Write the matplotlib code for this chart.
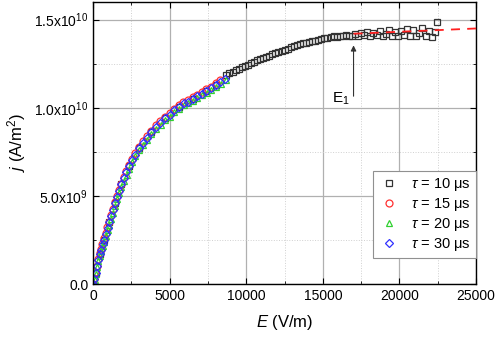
import matplotlib
matplotlib.use("Agg")
import matplotlib.pyplot as plt
from matplotlib.ticker import MultipleLocator, FuncFormatter

plt.rcParams['font.family'] = ['Liberation Sans', 'DejaVu Sans']
plt.rcParams['mathtext.fontset'] = 'custom'
plt.rcParams['mathtext.rm'] = 'Liberation Sans'
plt.rcParams['mathtext.it'] = 'Liberation Sans:italic'

# tau = 10 us (black squares), j in 1e9 A/m^2
E10 = [0, 160, 430, 720, 1050, 1420, 1840, 2350, 2990, 3800, 4700, 5600, 6500, 7400, 8000,
       8700, 8900, 9100, 9300, 9500, 9700, 9900, 10100, 10300, 10500, 10700, 10900, 11100,
       11300, 11500, 11700, 11900, 12100, 12300, 12500, 12700, 12900, 13100, 13300, 13500,
       13700, 13900, 14100, 14300, 14500, 14700, 14900, 15100, 15300, 15500, 15700, 15900,
       16100, 16300, 16500, 16700, 16900, 17100, 17300, 17500, 17700, 17900, 18100, 18300,
       18500, 18700, 18900, 19100, 19300, 19500, 19700, 19900, 20100, 20300, 20500, 20700,
       20900, 21100, 21300, 21500, 21700, 21900, 22100, 22300, 22450]
j10 = [0, 0.65, 1.7, 2.5, 3.5, 4.6, 5.65, 6.7, 7.7, 8.6, 9.4, 10.05, 10.5, 10.95, 11.3,
       11.85, 11.95, 12.05, 12.15, 12.2, 12.3, 12.35, 12.45, 12.55, 12.6, 12.7, 12.75, 12.85,
       12.9, 12.95, 13.05, 13.1, 13.15, 13.25, 13.3, 13.35, 13.45, 13.5, 13.55, 13.6,
       13.65, 13.7, 13.75, 13.8, 13.8, 13.85, 13.9, 13.95, 13.95, 14.0, 14.05, 14.0,
       14.1, 14.05, 14.15, 14.1, 14.05, 14.2, 14.1, 14.25, 14.15, 14.3, 14.05, 14.25,
       14.15, 14.35, 14.1, 14.2, 14.4, 14.1, 14.3, 14.05, 14.35, 14.15, 14.45, 14.1,
       14.4, 14.05, 14.25, 14.5, 14.1, 14.35, 14.0, 14.3, 14.85]

# tau = 15 us (red circles)
E15 = [0, 70, 150, 240, 330, 420, 510, 610, 710, 820, 930, 1040, 1160, 1280, 1410, 1540,
       1680, 1830, 1990, 2160, 2340, 2530, 2730, 2980, 3240, 3510, 3790, 4080, 4380, 4690,
       4990, 5290, 5590, 5890, 6190, 6490, 6790, 7090, 7390, 7690, 7990, 8300]
j15 = [0, 0.3, 0.7, 1.05, 1.4, 1.75, 2.0, 2.3, 2.6, 2.9, 3.25, 3.55, 3.9, 4.25, 4.65, 5.0,
       5.35, 5.7, 6.05, 6.4, 6.75, 7.1, 7.45, 7.8, 8.1, 8.4, 8.7, 9.0, 9.25, 9.5,
       9.7, 9.95, 10.15, 10.35, 10.45, 10.6, 10.75, 10.9, 11.05, 11.2, 11.4, 11.55]

# tau = 20 us (green triangles)
E20 = [0, 90, 170, 260, 350, 440, 530, 630, 730, 840, 950, 1060, 1180, 1300, 1430, 1560,
       1700, 1850, 2010, 2180, 2360, 2550, 2750, 3000, 3260, 3530, 3810, 4100, 4400, 4710,
       5010, 5310, 5610, 5910, 6210, 6510, 6810, 7110, 7410, 7710, 8010, 8320, 8650]
j20 = [0, 0.25, 0.6, 0.95, 1.3, 1.6, 1.85, 2.15, 2.4, 2.7, 3.05, 3.35, 3.7, 4.05, 4.45, 4.8,
       5.15, 5.5, 5.85, 6.2, 6.55, 6.9, 7.25, 7.6, 7.9, 8.2, 8.5, 8.8, 9.05, 9.3,
       9.5, 9.75, 9.95, 10.15, 10.25, 10.4, 10.55, 10.7, 10.85, 11.0, 11.2, 11.35, 11.55]

# tau = 30 us (blue diamonds)
E30 = [0, 80, 160, 250, 340, 430, 520, 620, 720, 830, 940, 1050, 1170, 1290, 1420, 1550,
       1690, 1840, 2000, 2170, 2350, 2540, 2740, 2990, 3250, 3520, 3800, 4090, 4390, 4700,
       5000, 5300, 5600, 5900, 6200, 6500, 6800, 7100, 7400, 7700, 8000, 8300, 8600]
j30 = [0, 0.3, 0.65, 1.0, 1.35, 1.7, 1.95, 2.25, 2.5, 2.85, 3.2, 3.5, 3.85, 4.2, 4.6, 4.95,
       5.3, 5.65, 6.0, 6.35, 6.7, 7.05, 7.35, 7.7, 8.0, 8.3, 8.6, 8.9, 9.15, 9.4,
       9.6, 9.85, 10.05, 10.25, 10.35, 10.5, 10.65, 10.8, 10.95, 11.1, 11.3, 11.45, 11.62]

# saturation fit (dashed line) and E1 marker
E_sat = [17000, 25000]
j_sat = [14.2, 14.5]
E1 = 17000
arrow_from, arrow_to = 10.5, 13.7

scale = 1e9

fig = plt.figure(figsize=(4.98, 3.37), dpi=100)
ax = fig.add_axes([0.187, 0.157, 0.769, 0.837])

ax.plot(E10, [v * scale for v in j10], ls='none', marker='s', ms=5, mfc='none', mec='#333333', mew=0.9, label=r'$\tau$ = 10 μs')
ax.plot(E15, [v * scale for v in j15], ls='none', marker='o', ms=5, mfc='none', mec='#ff3030', mew=0.9, label=r'$\tau$ = 15 μs')
ax.plot(E20, [v * scale for v in j20], ls='none', marker='^', ms=5, mfc='none', mec='#30d030', mew=0.9, label=r'$\tau$ = 20 μs')
ax.plot(E30, [v * scale for v in j30], ls='none', marker='D', ms=4.4, mfc='none', mec='#3030ff', mew=0.9, label=r'$\tau$ = 30 μs')

ax.plot(E_sat, [v * scale for v in j_sat], ls=(0, (5, 4)), color='#ff2020', lw=1.3, clip_on=False, zorder=5)

ax.annotate('', xy=(E1, arrow_to * scale), xytext=(E1, arrow_from * scale),
            arrowprops=dict(arrowstyle='-|>', color='#333333', lw=0.8, mutation_scale=8))
ax.text(E1 - 850, arrow_from * scale, r'E$_\mathregular{1}$', ha='center', va='center', fontsize=11)

ax.set_xlim(0, 25000)
ax.set_ylim(0, 1.6e10)
ax.xaxis.set_major_locator(MultipleLocator(5000))
ax.xaxis.set_minor_locator(MultipleLocator(2500))
ax.yaxis.set_major_locator(MultipleLocator(5e9))
ax.yaxis.set_minor_locator(MultipleLocator(2.5e9))


def yfmt(v, pos):
    if v == 0:
        return '0.0'
    exp = len(str(int(v))) - 1
    return r'$\mathregular{%.1fx10^{%d}}$' % (v / 10 ** exp, exp)


ax.yaxis.set_major_formatter(FuncFormatter(yfmt))

ax.grid(which='major', color='#b0b0b0', lw=0.9)
ax.grid(which='minor', color='#d0d0d0', lw=0.7, ls=':')
ax.set_axisbelow(True)
ax.tick_params(which='both', direction='in', top=True, right=True, labelsize=10)
ax.tick_params(which='major', length=4)
ax.tick_params(which='minor', length=2.5)
for s in ax.spines.values():
    s.set_linewidth(1.0)

ax.set_xlabel(r'$\mathit{E}$ (V/m)', fontsize=12, labelpad=7)
ax.set_ylabel(r'$\mathit{j}$ (A/m$^\mathregular{2}$)', fontsize=12, labelpad=4)

leg = ax.legend(loc='upper right', bbox_to_anchor=(1.0, 0.40), borderaxespad=0, fontsize=10.5,
                fancybox=False, framealpha=1, edgecolor='#909090', handletextpad=0.7,
                borderpad=0.35, labelspacing=0.2, handlelength=1.6)
leg.get_frame().set_linewidth(0.8)

fig.savefig('out.png', dpi=100)
